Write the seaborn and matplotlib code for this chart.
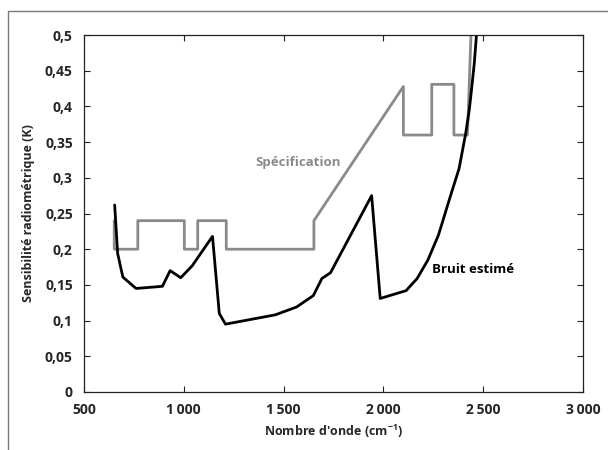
import matplotlib
matplotlib.use("Agg")
import matplotlib.pyplot as plt
from matplotlib.ticker import FixedLocator, FuncFormatter
import seaborn as sns
import pandas as pd

# Specification envelope (step-like vertices)
spec_x = [652, 652, 770, 770, 1003, 1003, 1070, 1070, 1213, 1213, 1652, 1652,
          2100, 2100, 2242, 2242, 2353, 2353, 2421, 2446]
spec_y = [0.24, 0.20, 0.20, 0.24, 0.24, 0.20, 0.20, 0.24, 0.24, 0.20, 0.20, 0.24,
          0.428, 0.36, 0.36, 0.431, 0.431, 0.36, 0.36, 0.56]

# Estimated noise
noise_x = [654, 669, 695, 761, 893, 932, 985, 1043, 1144, 1178, 1209, 1458, 1565,
           1649, 1692, 1735, 1941, 1984, 2114, 2169, 2223, 2276, 2334, 2379, 2412,
           2430, 2441, 2455, 2466, 2478]
noise_y = [0.262, 0.194, 0.161, 0.145, 0.148, 0.170, 0.160, 0.177, 0.218, 0.110,
           0.095, 0.108, 0.119, 0.135, 0.159, 0.167, 0.275, 0.131, 0.142, 0.159,
           0.185, 0.220, 0.273, 0.313, 0.362, 0.395, 0.423, 0.460, 0.500, 0.56]

x_ticks = [500, 1000, 1500, 2000, 2500, 3000]
y_ticks = [0, 0.05, 0.1, 0.15, 0.2, 0.25, 0.3, 0.35, 0.4, 0.45, 0.5]

sns.set_theme(style="ticks")
plt.rcParams["font.family"] = ["Open Sans", "DejaVu Sans"]
plt.rcParams["mathtext.default"] = "regular"

fig = plt.figure(figsize=(6.08, 4.5), dpi=100)
ax = fig.add_axes([0.138, 0.129, 0.821, 0.793])

spec_df = pd.DataFrame({"x": spec_x, "y": spec_y})
noise_df = pd.DataFrame({"x": noise_x, "y": noise_y})

sns.lineplot(data=spec_df, x="x", y="y", sort=False, estimator=None,
             color="#8a8a8a", linewidth=2.0, ax=ax)
sns.lineplot(data=noise_df, x="x", y="y", sort=False, estimator=None,
             color="black", linewidth=2.0, ax=ax)

ax.set_xlim(500, 3000)
ax.set_ylim(0, 0.5)
ax.xaxis.set_major_locator(FixedLocator(x_ticks))
ax.yaxis.set_major_locator(FixedLocator(y_ticks))


def fmt_x(v, _):
    return f"{int(v):,}".replace(",", "\u2009")


def fmt_y(v, _):
    s = f"{v:.2f}".rstrip("0").rstrip(".")
    return s.replace(".", ",")


ax.xaxis.set_major_formatter(FuncFormatter(fmt_x))
ax.yaxis.set_major_formatter(FuncFormatter(fmt_y))

ax.tick_params(direction="in", top=True, right=True, length=4, width=0.8,
               color="#222222", labelsize=10, pad=8)
for lbl in ax.get_xticklabels() + ax.get_yticklabels():
    lbl.set_fontweight("bold")
for s in ax.spines.values():
    s.set_visible(True)
    s.set_color("#222222")
    s.set_linewidth(0.9)

ax.set_xlabel("Nombre d'onde (cm$^{-1}$)", fontsize=9, fontweight="bold", labelpad=4)
ax.set_ylabel("Sensibilité radiométrique (K)", fontsize=9, fontweight="bold", labelpad=7)

ax.text(1785, 0.321, "Spécification", color="#8a8a8a", fontsize=9.5,
        fontweight="bold", ha="right", va="center")
ax.text(2245, 0.172, "Bruit estimé", color="black", fontsize=9.5,
        fontweight="bold", ha="left", va="center")

# Outer frame (top and left edges)
fig.add_artist(plt.Line2D([8 / 608, 1], [1 - 11 / 450] * 2, color="#7a7a7a",
                          linewidth=1.0, transform=fig.transFigure))
fig.add_artist(plt.Line2D([8 / 608] * 2, [0, 1 - 11 / 450], color="#7a7a7a",
                          linewidth=1.0, transform=fig.transFigure))

fig.savefig("out.png", dpi=100)
